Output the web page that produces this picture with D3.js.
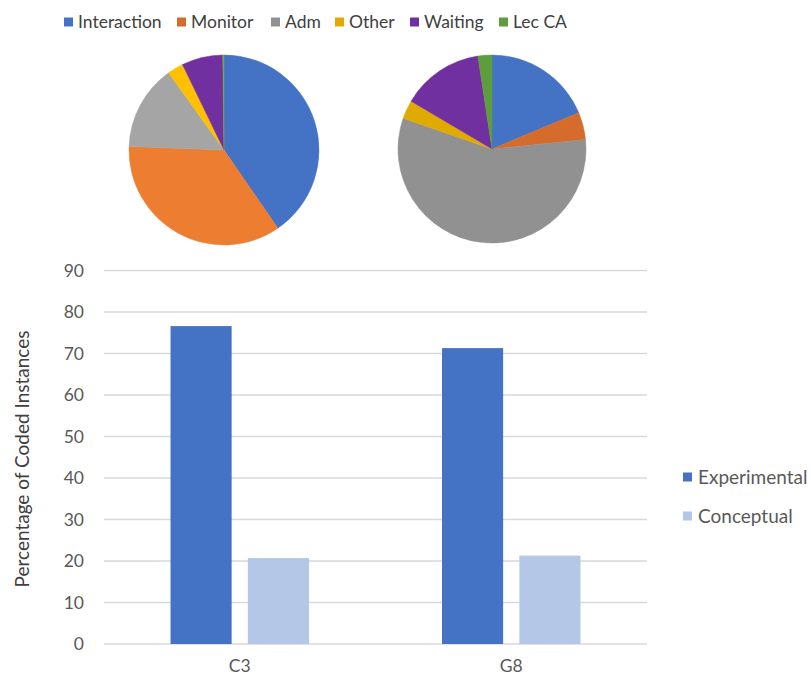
<!DOCTYPE html>
<html><head><meta charset="utf-8">
<script src="https://cdn.jsdelivr.net/npm/d3@7"></script>
<style>body{margin:0;background:#fff;} svg{display:block;} text{font-family:Lato,"Open Sans",sans-serif;}</style>
</head><body>
<svg id="c" width="811" height="679"></svg>
<script>
// ---- data ----
const pieCategories = ["Interaction", "Monitor", "Adm", "Other", "Waiting", "Lec CA"];
const pieC3 = [40.4, 35.2, 14.5, 2.7, 7.0, 0.2];
const pieG8 = [18.7, 4.7, 56.9, 3.2, 14.1, 2.4];
const barCategories = ["C3", "G8"];
const barSeries = ["Experimental", "Conceptual"];
const experimental = [76.6, 71.3];
const conceptual = [20.7, 21.3];
const yTicks = [0, 10, 20, 30, 40, 50, 60, 70, 80, 90];
const yTitle = "Percentage of Coded Instances";

// ---- styles ----
const pie1Colors = ["#4472C4", "#ED7D31", "#A5A5A5", "#FFC000", "#7030A0", "#70AD47"];
const pie2Colors = ["#4472C4", "#D56C2C", "#919191", "#E1AA00", "#7030A0", "#5E9D3B"];
const barColors = ["#4472C4", "#B4C7E7"];

const svg = d3.select("#c");

// legend top
const legendX = [64, 177, 271, 335, 410, 499];
const lg = svg.append("g");
pieCategories.forEach((c, i) => {
  lg.append("rect").attr("x", legendX[i]).attr("y", 17.5).attr("width", 9).attr("height", 9).attr("fill", pie2Colors[i]);
  lg.append("text").attr("x", legendX[i] + 14).attr("y", 22).attr("dy", "0.35em")
    .attr("font-size", 17.5).attr("fill", "#404040").text(c);
});

// pies
const pie = d3.pie().sort(null).value(d => d);
function drawPie(vals, colors, cx, cy, r) {
  const arc = d3.arc().innerRadius(0).outerRadius(r);
  svg.append("g").attr("transform", `translate(${cx},${cy})`)
    .selectAll("path").data(pie(vals)).join("path")
    .attr("d", arc).attr("fill", (d, i) => colors[i])
    .attr("stroke", (d, i) => colors[i]).attr("stroke-width", 0.5);
}
drawPie(pieC3, pie1Colors, 224, 150, 95);
drawPie(pieG8, pie2Colors, 492, 149, 94);

// bars
const y = d3.scaleLinear().domain([0, 90]).range([644, 270.5]);
const x = d3.scaleBand().domain(barCategories).range([104, 647]);
const xs = d3.scaleBand().domain(barSeries).range([0, x.bandwidth()]).paddingInner(0.21).paddingOuter(0.86);

const grid = svg.append("g");
yTicks.forEach(t => {
  grid.append("line").attr("x1", 104).attr("x2", 647).attr("y1", y(t)).attr("y2", y(t))
    .attr("stroke", "#D9D9D9").attr("stroke-width", 1.3);
});
const yAxis = d3.axisLeft(y).tickValues(yTicks).tickSize(0).tickPadding(0);
const ya = svg.append("g").attr("transform", "translate(84,0)").call(yAxis);
ya.select(".domain").remove();
ya.selectAll("text").attr("font-size", 17.5).attr("fill", "#595959").attr("font-family", "Lato,'Open Sans',sans-serif");

const seriesVals = [experimental, conceptual];
barCategories.forEach((cat, ci) => {
  barSeries.forEach((s, si) => {
    const v = seriesVals[si][ci];
    svg.append("rect").attr("x", x(cat) + xs(s)).attr("width", xs.bandwidth())
      .attr("y", y(v)).attr("height", y(0) - y(v)).attr("fill", barColors[si]);
  });
});

const xAxis = d3.axisBottom(x).tickSize(0).tickPadding(0);
const xa = svg.append("g").attr("transform", "translate(0,660)").call(xAxis);
xa.select(".domain").remove();
xa.selectAll("text").attr("font-size", 17.5).attr("fill", "#595959").attr("font-family", "Lato,'Open Sans',sans-serif");

svg.append("text").attr("transform", "translate(22,459) rotate(-90)").attr("text-anchor", "middle")
  .attr("dy", "0.35em").attr("font-size", 19).attr("fill", "#404040").text(yTitle);

// right legend
const rlY = [477, 516];
barSeries.forEach((s, i) => {
  svg.append("rect").attr("x", 683).attr("y", rlY[i] - 4.5).attr("width", 9).attr("height", 9).attr("fill", barColors[i]);
  svg.append("text").attr("x", 698).attr("y", rlY[i]).attr("dy", "0.35em").attr("font-size", 19)
    .attr("fill", "#595959").text(s);
});
</script>
</body></html>
